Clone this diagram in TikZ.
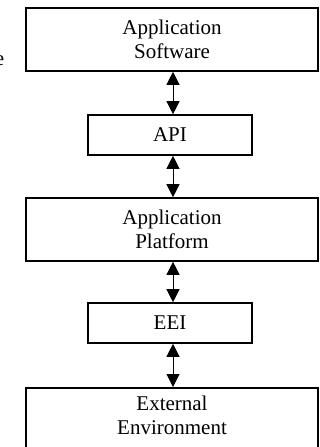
\documentclass[tikz,border=0pt]{standalone}
\usepackage{fontspec}
\setmainfont{Liberation Serif}
\usetikzlibrary{arrows.meta}
\begin{document}
\begin{tikzpicture}[x=1pt,y=1pt,
  box/.style={draw=black, line width=1.6pt, inner sep=0pt, align=center,
    font=\fontsize{21}{24.5}\selectfont},
  wide/.style={box, minimum width=292pt},
  narrow/.style={box, minimum width=164pt},
  arr/.style={line width=1pt, {Triangle[width=13pt,length=13pt]}-{Triangle[width=13pt,length=13pt]}}
]
\useasboundingbox (0,0) rectangle (320,-447);
\node[wide, minimum height=63pt] (as) at (172,-39.5) {Application\\Software};
\node[narrow, minimum height=40pt] (api) at (170,-135) {API};
\node[wide, minimum height=63pt] (ap) at (172,-229.5) {Application\\Platform};
\node[narrow, minimum height=40pt] (eei) at (170,-323) {EEI};
\node[wide, minimum height=70pt, anchor=north] (ee) at (172,-387) {};
\node[font=\fontsize{21}{24.5}\selectfont, align=center, anchor=north] (eet) at (172,-392) {External\\Environment};
\node[font=\fontsize{21}{24.5}\selectfont, inner sep=0pt, anchor=base east] (frag) at (4.5,-65) {e};
\draw[arr] ([xshift=1pt]as.south) -- ([xshift=1pt]as.south |- api.north);
\draw[arr] ([xshift=1pt]as.south |- api.south) -- ([xshift=1pt]ap.north);
\draw[arr] ([xshift=1pt]ap.south) -- ([xshift=1pt]ap.south |- eei.north);
\draw[arr] ([xshift=1pt]ap.south |- eei.south) -- ([xshift=1pt]ee.north);
\end{tikzpicture}
\end{document}
